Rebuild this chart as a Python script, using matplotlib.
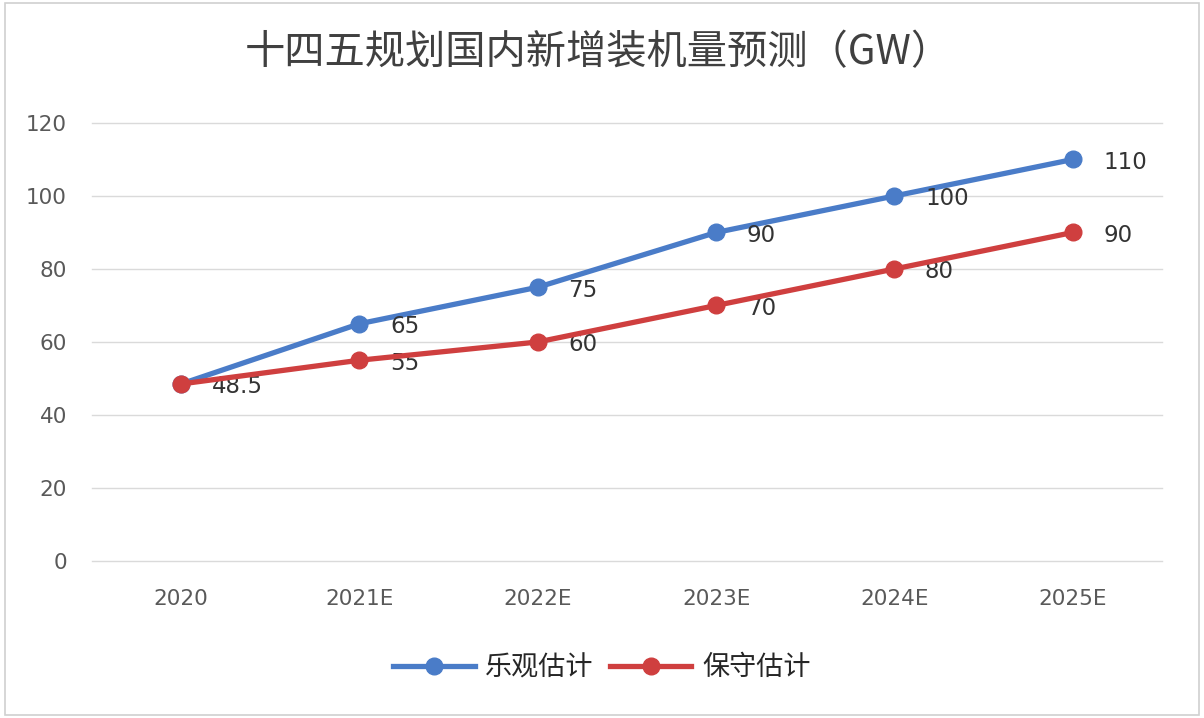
import matplotlib
matplotlib.use("Agg")
import matplotlib.pyplot as plt
from matplotlib.patches import Rectangle

plt.rcParams['font.family'] = ['Noto Sans CJK SC', 'DejaVu Sans']

categories = ["2020", "2021E", "2022E", "2023E", "2024E", "2025E"]
optimistic = [48.5, 65, 75, 90, 100, 110]
conservative = [48.5, 55, 60, 70, 80, 90]
opt_labels = ["", "65", "75", "90", "100", "110"]
con_labels = ["48.5", "55", "60", "70", "80", "90"]
yticks = [0, 20, 40, 60, 80, 100, 120]
title = "十四五规划国内新增装机量预测（GW）"
series_names = ["乐观估计", "保守估计"]

blue = "#4A7CC8"
red = "#CF3F3F"

fig = plt.figure(figsize=(12.04, 7.18), dpi=100)
fig.patch.set_facecolor("white")
fig.add_artist(Rectangle((0.004, 0.004), 0.992, 0.992, transform=fig.transFigure,
                         fill=False, edgecolor="#D0D0D0", linewidth=1.2))

ax = fig.add_axes([0.0764, 0.2187, 0.8886, 0.61])
x = list(range(len(categories)))
l1, = ax.plot(x, optimistic, color=blue, linewidth=3.8, marker="o", markersize=12,
              label=series_names[0], zorder=3)
l2, = ax.plot(x, conservative, color=red, linewidth=3.8, marker="o", markersize=12,
              label=series_names[1], zorder=4)

for xi, yi, t in zip(x, optimistic, opt_labels):
    if t:
        ax.annotate(t, (xi, yi), xytext=(22, -2), textcoords="offset points",
                    ha="left", va="center", fontsize=16.5, color="#333333",
                    family="DejaVu Sans")
for xi, yi, t in zip(x, conservative, con_labels):
    ax.annotate(t, (xi, yi), xytext=(22, -2), textcoords="offset points",
                ha="left", va="center", fontsize=16.5, color="#333333",
                family="DejaVu Sans")

ax.set_xlim(-0.5, len(categories) - 0.5)
ax.set_ylim(0, 120)
ax.set_yticks(yticks)
ax.set_xticks(x)
ax.set_xticklabels(categories)
ax.tick_params(axis="both", length=0, labelsize=15.5, labelcolor="#595959")
ax.tick_params(axis="x", pad=20)
ax.tick_params(axis="y", pad=18)
for lab in ax.get_xticklabels() + ax.get_yticklabels():
    lab.set_family("DejaVu Sans")
ax.yaxis.grid(True, color="#DADADA", linewidth=1.0)
for gl in ax.get_ygridlines():
    gl.set_clip_on(False)
ax.set_axisbelow(True)
for s in ax.spines.values():
    s.set_visible(False)

fig.text(0.497, 0.927, title, ha="center", va="center", fontsize=29,
         color="#404040", fontweight="medium")

fig.legend(handles=[l1, l2], loc="center", bbox_to_anchor=(0.5, 0.07), ncol=2,
           frameon=False, fontsize=19.5, handlelength=3.0, columnspacing=0.6,
           handletextpad=0.4, labelcolor="#262626")

fig.savefig("out.png", dpi=100, facecolor="white")
